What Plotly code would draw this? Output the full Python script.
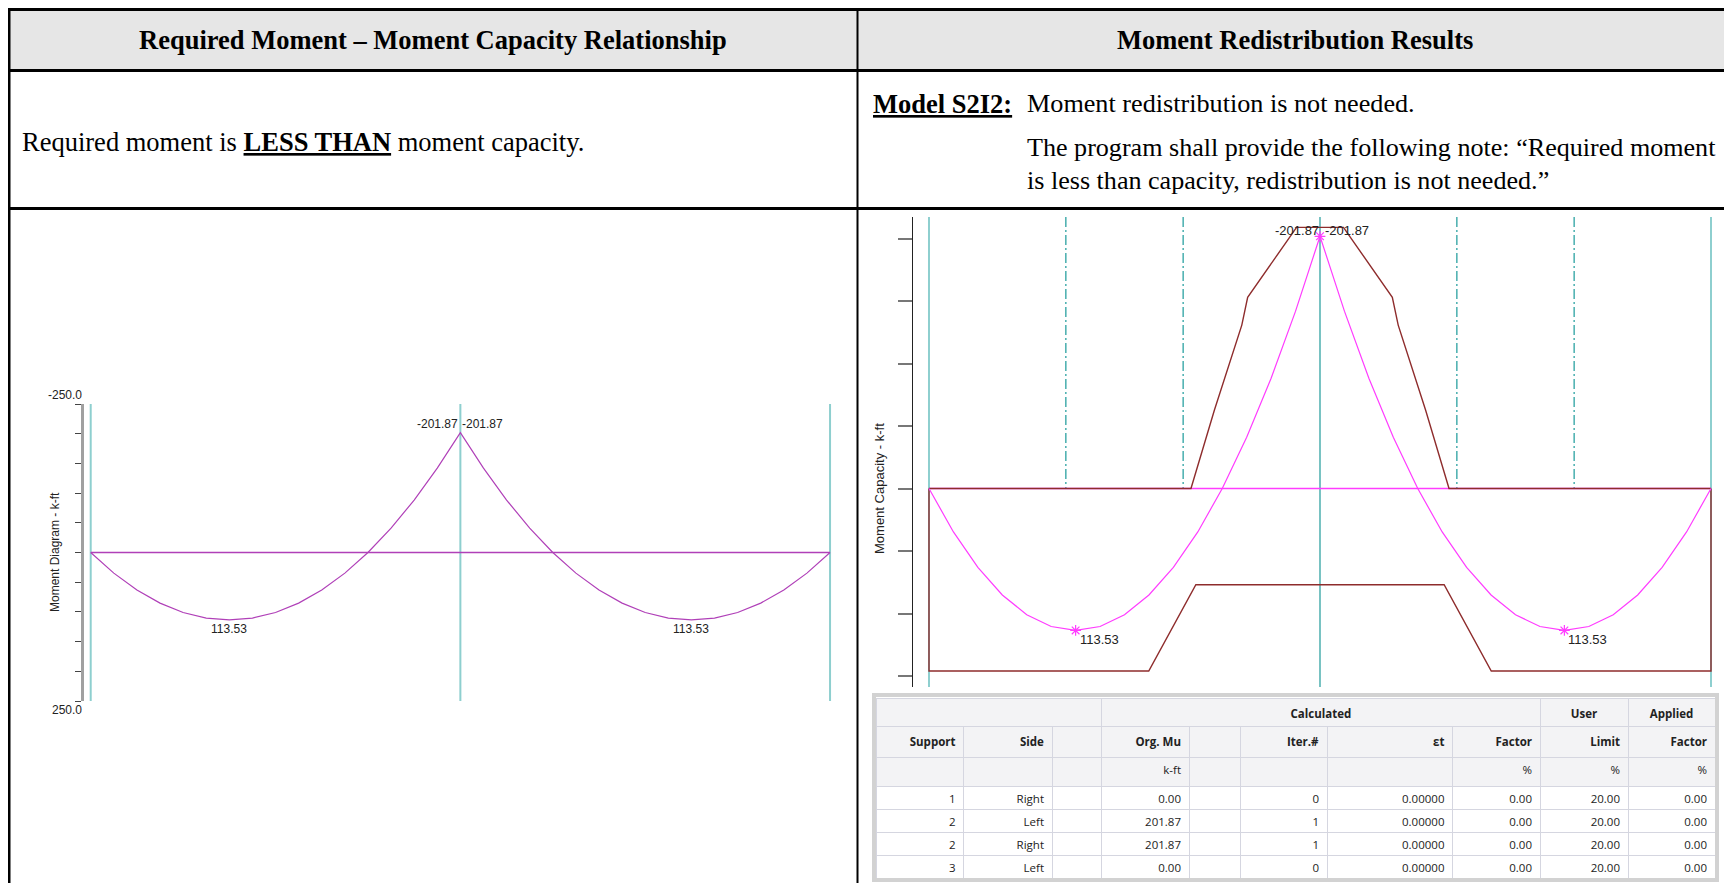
import plotly.graph_objects as go

W, H = 1732, 883
PAGE_PAD = 8  # browser body margin around the plot div

# ---- beam data: two equal spans, stations in ft ----
support_x = [0, 20, 40]
station_x = [0, 1.25, 2.5, 3.75, 5, 6.25, 7.5, 8.75, 10, 11.25, 12.5, 13.75, 15, 16.25, 17.5, 18.75,
             20, 21.25, 22.5, 23.75, 25, 26.25, 27.5, 28.75, 30, 31.25, 32.5, 33.75, 35, 36.25, 37.5, 38.75, 40]
moment = [0, 34.70, 63.08, 85.16, 100.94, 110.40, 113.53, 110.40, 100.94, 85.16, 63.08, 34.70, 0,
          -41.00, -88.32, -141.94, -201.87, -141.94, -88.32, -41.00, 0, 34.70, 63.08, 85.16, 100.94,
          110.40, 113.53, 110.40, 100.94, 85.16, 63.08, 34.70, 0]
peak_x = [7.5, 20, 32.5]
peak_m = [113.53, -201.87, 113.53]
peak_text = ["113.53", "-201.87", "113.53"]

# moment capacity envelope
cap_neg_x = [0, 13.4, 14.6, 15.3, 16.0, 16.3, 18.8, 21.2, 23.7, 24.0, 24.7, 25.4, 26.6, 40]
cap_neg = [0, 0, -62.8, -97.5, -130.8, -153.0, -209.0, -209.0, -153.0, -130.8, -97.5, -62.8, 0, 0]
cap_pos_x = [0, 0, 11.24, 13.65, 26.35, 28.76, 40, 40]
cap_pos = [0, 146, 146, 77, 77, 146, 146, 0]
zone_x = [7, 13, 27, 33]

diag_ticks = [-250, -200, -150, -100, -50, 0, 50, 100, 150, 200, 250]
diag_range = [-250, 250]
cap_ticks = [-200, -150, -100, -50, 0, 50, 100, 150]
cap_range = [-217.3, 158.8]

# ---- redistribution table ----
col_labels = ["Support", "Side", "", "Org. Mu", "", "Iter.#", "εt", "Factor", "Limit", "Factor"]
col_units = ["", "", "", "k-ft", "", "", "", "%", "%", "%"]
group_labels = ["", "Calculated", "User", "Applied"]
support_no = [1, 2, 2, 3]
side = ["Right", "Left", "Right", "Left"]
org_mu = [0.00, 201.87, 201.87, 0.00]
iters = [0, 1, 1, 0]
eps_t = [0.0, 0.0, 0.0, 0.0]
calc_factor = [0.00, 0.00, 0.00, 0.00]
user_limit = [20.00, 20.00, 20.00, 20.00]
applied_factor = [0.00, 0.00, 0.00, 0.00]


def px(x):
    return (x - PAGE_PAD) / W


def py(y):
    return 1 - (y - PAGE_PAD) / H


PURPLE = "#b040b8"
MAGENTA = "#ff3cff"
BROWN = "#8e2c2c"
TEAL_LT = "#8ecfcf"
TEAL_DK = "#1f9a9a"
SERIF = "Liberation Serif"
SANS = "Liberation Sans"

fig = go.Figure()

# left chart: moment diagram
for s in support_x:
    fig.add_trace(go.Scatter(x=[s, s], y=diag_range, mode="lines",
                             line=dict(color=TEAL_LT, width=2), xaxis="x", yaxis="y"))
fig.add_trace(go.Scatter(x=[support_x[0], support_x[-1]], y=[0, 0], mode="lines",
                         line=dict(color=PURPLE, width=1.5), xaxis="x", yaxis="y"))
fig.add_trace(go.Scatter(x=station_x, y=moment, mode="lines",
                         line=dict(color=PURPLE, width=1.2), xaxis="x", yaxis="y"))

# right chart: moment capacity
for s in [support_x[0], support_x[-1]]:
    fig.add_trace(go.Scatter(x=[s, s], y=cap_range, mode="lines",
                             line=dict(color=TEAL_LT, width=2), xaxis="x2", yaxis="y2"))
fig.add_trace(go.Scatter(x=[support_x[1], support_x[1]], y=cap_range, mode="lines",
                         line=dict(color=TEAL_DK, width=1.2), xaxis="x2", yaxis="y2"))
for z in zone_x:
    fig.add_trace(go.Scatter(x=[z, z], y=[cap_range[0], 0], mode="lines",
                             line=dict(color="#3aa8a8", width=1.4, dash="10px,3px,2px,3px"),
                             xaxis="x2", yaxis="y2"))
fig.add_trace(go.Scatter(x=[support_x[0], support_x[-1]], y=[0, 0], mode="lines",
                         line=dict(color=MAGENTA, width=1.5), xaxis="x2", yaxis="y2"))
fig.add_trace(go.Scatter(x=cap_neg_x, y=cap_neg, mode="lines",
                         line=dict(color=BROWN, width=1.4), xaxis="x2", yaxis="y2"))
fig.add_trace(go.Scatter(x=cap_pos_x, y=cap_pos, mode="lines",
                         line=dict(color=BROWN, width=1.4), xaxis="x2", yaxis="y2"))
fig.add_trace(go.Scatter(x=station_x, y=moment, mode="lines",
                         line=dict(color=MAGENTA, width=1.2), xaxis="x2", yaxis="y2"))
fig.add_trace(go.Scatter(x=peak_x, y=peak_m, mode="markers",
                         marker=dict(symbol="asterisk-open", size=9, color=MAGENTA,
                                     line=dict(color=MAGENTA, width=1.2)),
                         xaxis="x2", yaxis="y2"))

# table: group row (header of its own table; its filler row sits under the main table)
HDR_FILL = "#f3f3f5"
GRID = "#d5d6e0"
tfont = dict(family="Open Sans", size=11.5, color="#222222")
fig.add_trace(go.Table(
    domain=dict(x=[px(876), px(1715)], y=[py(748), py(698)]),
    columnwidth=[225.7, 438.3, 88, 87],
    header=dict(values=["<b>%s</b>" % g if g else "" for g in group_labels], align="center",
                fill_color=HDR_FILL, line=dict(color=GRID, width=1), height=28, font=tfont),
    cells=dict(values=[[""] for _ in group_labels], fill_color=HDR_FILL,
               line=dict(color=GRID, width=1), height=20, font=tfont),
))

blank = ["", "", "", ""]
cell_cols = [
    [str(v) for v in support_no],
    side,
    blank,
    ["%.2f" % v for v in org_mu],
    blank,
    [str(v) for v in iters],
    ["%.5f" % v for v in eps_t],
    ["%.2f" % v for v in calc_factor],
    ["%.2f" % v for v in user_limit],
    ["%.2f" % v for v in applied_factor],
]
fig.add_trace(go.Table(
    domain=dict(x=[px(876), px(1715)], y=[py(880), py(726)]),
    columnwidth=[87.5, 88.5, 49.7, 87.3, 51, 87, 125.5, 87.5, 88, 87],
    header=dict(values=[["<b>%s</b>" % l if l else "", u] for l, u in zip(col_labels, col_units)],
                align="right", fill_color=HDR_FILL, line=dict(color=GRID, width=1),
                height=29, font=tfont),
    cells=dict(values=cell_cols, align="right", fill_color="white",
               line=dict(color=GRID, width=1), height=23, font=tfont),
))

# document frame
shapes = [
    dict(type="rect", xref="paper", yref="paper", x0=px(9), x1=px(1745), y0=py(70), y1=py(9),
         fillcolor="#e6e6e6", line=dict(width=0), layer="below"),
    dict(type="rect", xref="paper", yref="paper", x0=px(874), x1=px(1717), y0=py(880), y1=py(695),
         fillcolor="rgba(0,0,0,0)", line=dict(color="#d2d2d2", width=4)),
]
for y in [9.5, 70.5, 208.5]:
    shapes.append(dict(type="line", xref="paper", yref="paper", x0=px(8), x1=px(1745), y0=py(y), y1=py(y),
                       line=dict(color="black", width=3)))
shapes.append(dict(type="line", xref="paper", yref="paper", x0=px(9), x1=px(9), y0=py(8), y1=py(895),
                   line=dict(color="black", width=3)))
shapes.append(dict(type="line", xref="paper", yref="paper", x0=px(857.5), x1=px(857.5), y0=py(8), y1=py(895),
                   line=dict(color="black", width=2)))


def doc_text(x, y, text, anchor="left", size=26.5):
    return dict(xref="paper", yref="paper", x=px(x), y=py(y), text=text, showarrow=False,
                xanchor=anchor, yanchor="middle", font=dict(family=SERIF, size=size, color="black"))


annotations = [
    doc_text(433, 40, "<b>Required Moment – Moment Capacity Relationship</b>", "center"),
    doc_text(1295, 40, "<b>Moment Redistribution Results</b>", "center"),
    doc_text(20, 142, "Required moment is <b><u>LESS THAN</u></b> moment capacity."),
    doc_text(871, 104, "<b><u>Model S2I2:</u></b>"),
    doc_text(1025, 104, "Moment redistribution is not needed.", size=26.2),
    doc_text(1025, 148, "The program shall provide the following note: “Required moment", size=26.1),
    doc_text(1025, 180, "is less than capacity, redistribution is not needed.”", size=26.1),
]

lab = dict(family=SANS, size=12, color="#222222")
lab2 = dict(family=SANS, size=13, color="#222222")
annotations += [
    dict(xref="paper", yref="y", x=px(84), y=diag_range[0], text="-250.0", showarrow=False,
         xanchor="right", yanchor="bottom", font=lab),
    dict(xref="paper", yref="y", x=px(84), y=diag_range[1], text="250.0", showarrow=False,
         xanchor="right", yanchor="top", font=lab),
    dict(xref="paper", yref="paper", x=px(46), y=py(552), text="Moment Diagram - k-ft", textangle=-90,
         showarrow=False, font=lab),
    dict(xref="paper", yref="paper", x=px(880), y=py(489), text="Moment Capacity - k-ft", textangle=-90,
         showarrow=False, font=lab2),
]
for xv, mv, t in zip(peak_x, peak_m, peak_text):
    if mv < 0:
        annotations += [
            dict(xref="x", yref="y", x=xv, y=mv, text=t, showarrow=False, xanchor="right",
                 yanchor="bottom", font=lab),
            dict(xref="x", yref="y", x=xv, y=mv, text=t, showarrow=False, xanchor="left",
                 yanchor="bottom", font=lab),
            dict(xref="x2", yref="y2", x=xv, y=mv, text=t, showarrow=False, xanchor="right",
                 yanchor="middle", yshift=6, xshift=1, font=lab2),
            dict(xref="x2", yref="y2", x=xv, y=mv, text=t, showarrow=False, xanchor="left",
                 yanchor="middle", yshift=6, xshift=3, font=lab2),
        ]
    else:
        annotations += [
            dict(xref="x", yref="y", x=xv, y=mv, text=t, showarrow=False, xanchor="center",
                 yanchor="top", font=lab),
            dict(xref="x2", yref="y2", x=xv, y=mv, text=t, showarrow=False, xanchor="left",
                 yanchor="top", xshift=2, font=lab2),
        ]

fig.update_layout(
    width=W, height=H, margin=dict(l=0, r=0, t=0, b=0),
    paper_bgcolor="white", plot_bgcolor="rgba(0,0,0,0)", showlegend=False,
    shapes=shapes, annotations=annotations,
    xaxis=dict(domain=[px(83.5), px(850)], range=[-0.39, 41.08], visible=False),
    yaxis=dict(domain=[py(701), py(404)], range=[diag_range[1], diag_range[0]], tickvals=diag_ticks,
               showticklabels=False, ticks="outside", ticklen=6, tickcolor="#444444", tickwidth=1,
               showline=True, linecolor="#a0a0a0", linewidth=3, showgrid=False, zeroline=False,
               anchor="x"),
    xaxis2=dict(domain=[px(913), px(1725)], range=[-0.818, 40.716], visible=False, anchor="y2"),
    yaxis2=dict(domain=[py(687), py(217)], range=[cap_range[1], cap_range[0]], tickvals=cap_ticks,
                showticklabels=False, ticks="outside", ticklen=14, tickcolor="#777777", tickwidth=2,
                showline=True, linecolor="#222222", linewidth=1, showgrid=False, zeroline=False,
                anchor="x2"),
)

fig.write_html("out.html")
